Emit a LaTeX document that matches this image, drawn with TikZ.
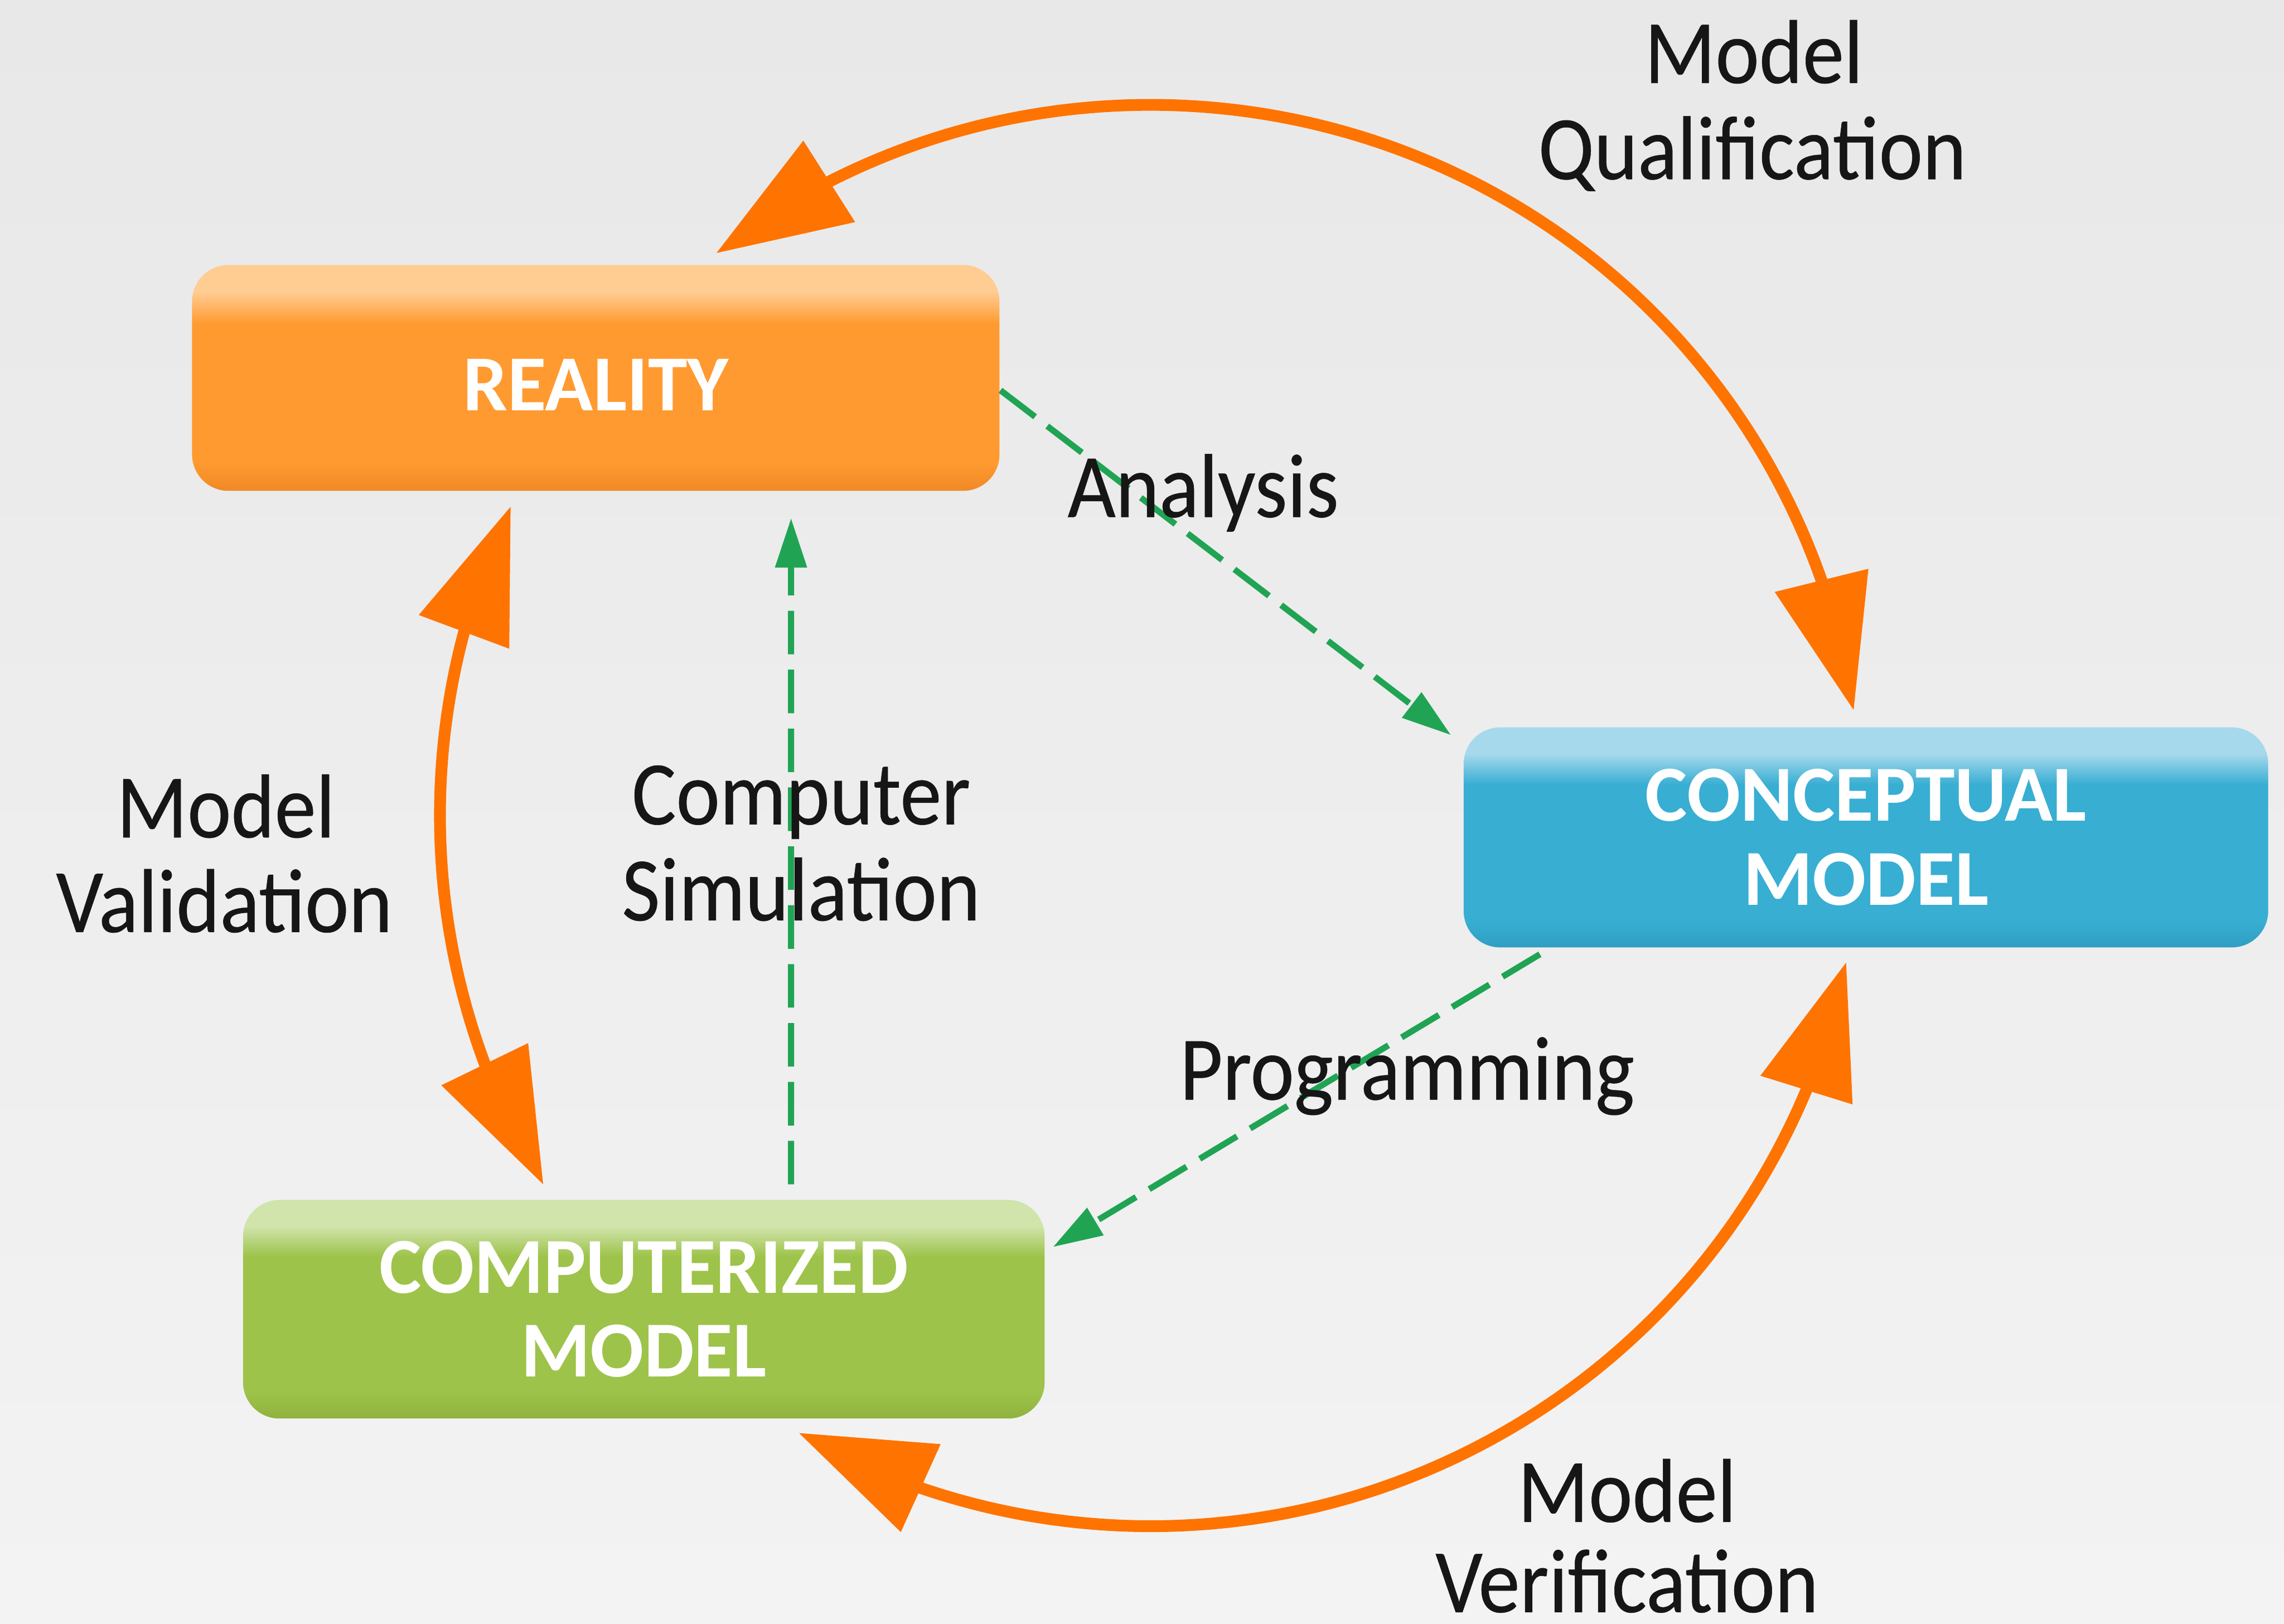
\documentclass[tikz,border=0pt]{standalone}
\usepackage{fontspec}
\setmainfont{Carlito}
\newfontfamily\labelfont{Carlito}[FakeStretch=0.915,FakeBold=0.35]
\usetikzlibrary{arrows.meta,bending,calc}

% palette
\definecolor{bgtop}{RGB}{232,232,232}
\definecolor{bgbot}{RGB}{243,243,243}
\definecolor{realmain}{RGB}{255,154,48}
\definecolor{reallight}{RGB}{255,204,146}
\definecolor{realdark}{RGB}{238,137,38}
\definecolor{concmain}{RGB}{56,174,211}
\definecolor{conclight}{RGB}{166,217,236}
\definecolor{concdark}{RGB}{48,158,194}
\definecolor{compmain}{RGB}{157,195,74}
\definecolor{complight}{RGB}{209,228,172}
\definecolor{compdark}{RGB}{143,178,62}
\definecolor{arcorange}{RGB}{255,115,0}
\definecolor{dashgreen}{RGB}{32,164,84}
\definecolor{labelink}{RGB}{22,22,22}

% glossy vertical fills for the three stage boxes (box spans 25bp..75bp)
\pgfdeclareverticalshading{realityshade}{100bp}{color(0bp)=(realdark); color(25bp)=(realdark); color(31bp)=(realmain); color(62bp)=(realmain); color(69bp)=(reallight); color(75bp)=(reallight); color(100bp)=(reallight)}
\pgfdeclareverticalshading{conceptshade}{100bp}{color(0bp)=(concdark); color(25bp)=(concdark); color(31bp)=(concmain); color(62bp)=(concmain); color(69bp)=(conclight); color(75bp)=(conclight); color(100bp)=(conclight)}
\pgfdeclareverticalshading{computeshade}{100bp}{color(0bp)=(compdark); color(25bp)=(compdark); color(31bp)=(compmain); color(62bp)=(compmain); color(69bp)=(complight); color(75bp)=(complight); color(100bp)=(complight)}

\tikzset{
  cycletip/.tip={Triangle[length=0.92cm,width=0.64cm,flex]},
  flowtip/.tip={Triangle[length=0.34cm,width=0.21cm]},
  stagebox/.style={shade, rounded corners=0.25cm, inner sep=0pt, align=center,
    text=white, font=\bfseries\fontsize{15.5}{16.4}\selectfont},
  cyclearrow/.style={draw=arcorange, line width=2.3pt, cycletip-cycletip},
  flowline/.style={draw=dashgreen, line width=1.2pt, dash pattern=on 8.5pt off 3pt, -flowtip},
  steplabel/.style={text=labelink, inner sep=0pt, anchor=base,
    font=\labelfont\fontsize{17.7}{18.2}\selectfont},
}

\begin{document}
\begin{tikzpicture}[x=0.01cm, y=-0.01cm]
  % canvas
  \useasboundingbox (0,0) rectangle (1568,1115);
  \shade[top color=bgtop, bottom color=bgbot] (0,0) rectangle (1568,1115);

  % stages
  \node[stagebox, shading=realityshade, minimum width=5.54cm, minimum height=1.55cm]
    (reality) at (409,259.5) {\raisebox{-0.1cm}[0.25cm][0pt]{REALITY}};
  \node[stagebox, shading=conceptshade, minimum width=5.52cm, minimum height=1.51cm]
    (concept) at (1281,575) {CONCEPTUAL\\MODEL};
  \node[stagebox, shading=computeshade, minimum width=5.50cm, minimum height=1.50cm]
    (computer) at (442,899) {COMPUTERIZED\\MODEL};

  % the outer cycle: three arcs of one circle
  \coordinate (ring) at (790,560);
  \coordinate (qualA) at ($(ring)+(-127.7:488)$);
  \coordinate (validA) at ($(ring)+(-154.2:488)$);
  \coordinate (verifA) at ($(ring)+(-240.3:488)$);
  \draw[cyclearrow] (qualA) arc[start angle=-127.7, end angle=-8.5, radius=488];
  \draw[cyclearrow] (validA) arc[start angle=-154.2, end angle=-211.3, radius=488];
  \draw[cyclearrow] (verifA) arc[start angle=-240.3, end angle=-348.1, radius=488];

  % inner dashed flows
  \draw[flowline] ([yshift=-0.085cm]reality.east)
    -- ([xshift=-0.08cm,yshift=-0.06cm]concept.north west);
  \draw[flowline] ([xshift=0.53cm,yshift=-0.04cm]concept.south west)
    -- ([xshift=0.05cm,yshift=-0.33cm]computer.north east);
  \draw[flowline] ([xshift=1.01cm,yshift=0.1cm]computer.north)
    -- ([xshift=1.34cm,yshift=-0.18cm]reality.south);

  % labels
  \node[steplabel] (qual1) at (1204,57) {Model};
  \node[steplabel] (qual2) at (1203,123) {Qualification};
  \node[steplabel] (analysis) at (826,355) {Analysis};
  \node[steplabel] (valid1) at (155,575) {Model};
  \node[steplabel] (valid2) at (154,640) {Validation};
  \node[steplabel] (sim1) at (550,566) {Computer};
  \node[steplabel] (sim2) at (550,632) {Simulation};
  \node[steplabel] (prog) at (966,755) {Programming};
  \node[steplabel] (verif1) at (1117,1045) {Model};
  \node[steplabel] (verif2) at (1117,1107) {Verification};
\end{tikzpicture}
\end{document}
